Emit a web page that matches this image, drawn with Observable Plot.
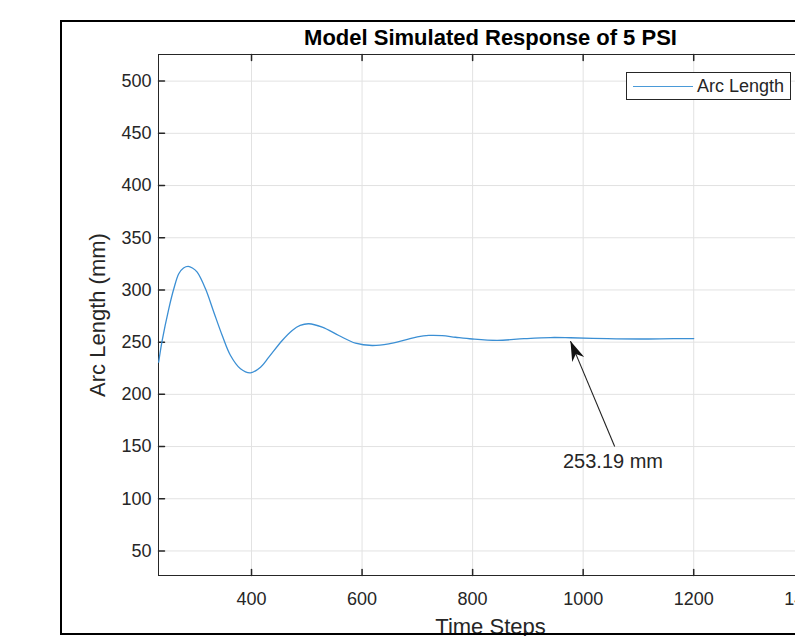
<!DOCTYPE html>
<html>
<head>
<meta charset="utf-8">
<script src="https://cdn.jsdelivr.net/npm/d3@7"></script>
<script src="https://cdn.jsdelivr.net/npm/@observablehq/plot@0.6"></script>
<style>
  html, body { margin: 0; padding: 0; background: #fff; overflow: hidden; }
  #wrap { position: relative; width: 795px; height: 636px; overflow: hidden; font-family: "Liberation Sans", Arial, sans-serif; }
  #chart { position: absolute; left: 0; top: 0; width: 900px; height: 636px; }
  #chart svg { max-width: none !important; width: 900px; height: 636px; }
  #frame { position: absolute; left: 60px; top: 20px; width: 1000px; height: 611px; border: 2px solid #000; pointer-events: none; }
  #legend { position: absolute; left: 626px; top: 72px; width: 163px; height: 26px; border: 1px solid #262626; background: #fff; }
  #legend .ln { position: absolute; left: 6px; top: 13px; width: 60px; height: 0; border-top: 1.3px solid #4a9ad8; }
  #legend .tx { position: absolute; left: 70px; top: 3px; font-size: 18px; color: #262626; line-height: 20px; }
</style>
</head>
<body>
<div id="wrap">
  <div id="chart"></div>
  <div id="legend"><div class="ln"></div><div class="tx">Arc Length</div></div>
  <div id="frame"></div>
</div>
<script>
// ---- data ----
const timeSteps = [232, 238.4, 250.3, 259.4, 268.4, 277, 285.4, 293, 301.7, 316.7, 331.8, 347, 362, 380, 398.2, 416.3, 431.3, 455.5, 473.6, 488, 503.7, 527.9, 557.9, 588.1, 618.3, 648.4, 678.6, 700, 720.8, 745, 769, 799.5, 844.7, 893, 941, 977, 1044, 1104, 1164, 1200];
const arcLength = [230.8, 251.6, 281.9, 301.1, 315.5, 321, 322.5, 321, 317, 301.1, 278.7, 256.4, 237.2, 224.5, 220.6, 226, 235.6, 251.6, 261.2, 266, 267.6, 264.3, 256.4, 249, 246.8, 248.4, 252.2, 255, 256.4, 256.2, 254.7, 253, 251.7, 253.3, 254.4, 254.2, 253.3, 253, 253.4, 253.4];

const xTicks = [400, 600, 800, 1000, 1200, 1400];
const yTicks = [50, 100, 150, 200, 250, 300, 350, 400, 450, 500];
const xDomain = [231.7, 1433];
const yDomain = [26.5, 525.5];

const titleText = "Model Simulated Response of 5 PSI";
const xLabel = "Time Steps";
const yLabel = "Arc Length (mm)";
const annotationText = "253.19 mm";
const arrowTail = [1057, 150];
const arrowTip = [977, 251];
const labelPos = [1054, 135.5];

// ---- layout ----
const W = 900, H = 636;
const mL = 158, mR = 78, mT = 54, mB = 61;

const data = timeSteps.map((t, i) => ({t, v: arcLength[i]}));

const kx = (W - mL - mR) / (xDomain[1] - xDomain[0]);
const ky = (H - mT - mB) / (yDomain[1] - yDomain[0]);
const dxp = (arrowTail[0] - arrowTip[0]) * kx;
const dyp = (arrowTip[1] - arrowTail[1]) * ky;
const headAngle = -Math.atan2(dxp, dyp) * 180 / Math.PI;

const tickShape = { draw(ctx, l) { ctx.moveTo(0, 0); ctx.lineTo(0, -l); } };
const headSymbol = { draw(ctx) {
  ctx.moveTo(0, 0); ctx.lineTo(-6.5, 20); ctx.lineTo(0, 14); ctx.lineTo(6.5, 20); ctx.closePath();
} };

const axisColor = "#262626";
const gridColor = "#e2e2e2";

const chart = Plot.plot({
  width: W, height: H,
  marginLeft: mL, marginRight: mR, marginTop: mT, marginBottom: mB,
  style: { fontFamily: "'Liberation Sans', Arial, sans-serif", fontSize: "18px", color: axisColor, background: "transparent", overflow: "visible", maxWidth: "none" },
  x: { domain: xDomain },
  y: { domain: yDomain },
  marks: [
    Plot.gridX(xTicks, { stroke: gridColor, strokeOpacity: 1 }),
    Plot.gridY(yTicks, { stroke: gridColor, strokeOpacity: 1 }),
    Plot.axisX(xTicks, { tickSize: 0, tickPadding: 17, label: null, fontSize: 18, tickFormat: d => String(d) }),
    Plot.axisY(yTicks, { tickSize: 0, tickPadding: 7, label: null, fontSize: 18, tickFormat: d => String(d) }),
    Plot.vector(xTicks, { x: d => d, frameAnchor: "bottom", length: 6, rotate: 0, anchor: "start", shape: tickShape, stroke: axisColor }),
    Plot.vector(xTicks, { x: d => d, frameAnchor: "top", length: 6, rotate: 180, anchor: "start", shape: tickShape, stroke: axisColor }),
    Plot.vector(yTicks, { y: d => d, frameAnchor: "left", length: 6, rotate: 90, anchor: "start", shape: tickShape, stroke: axisColor }),
    Plot.frame({ stroke: axisColor, strokeWidth: 1 }),
    Plot.line(data, { x: "t", y: "v", stroke: "#3b8fd4", strokeWidth: 1.3, curve: "catmull-rom" }),
    Plot.link([0], { x1: [arrowTail[0]], y1: [arrowTail[1]], x2: [arrowTip[0]], y2: [arrowTip[1]], stroke: "#222", strokeWidth: 1.1 }),
    Plot.dot([0], { x: [arrowTip[0]], y: [arrowTip[1]], symbol: headSymbol, r: 10, rotate: headAngle, fill: "#111", stroke: "none" }),
    Plot.text([annotationText], { x: [labelPos[0]], y: [labelPos[1]], text: d => d, fontSize: 20, fill: axisColor, textAnchor: "middle", lineAnchor: "middle" }),
    Plot.text([titleText], { frameAnchor: "top", dy: -17, text: d => d, fontSize: 22, fontWeight: "bold", fill: "#000", lineAnchor: "middle", textAnchor: "middle" }),
    Plot.text([xLabel], { frameAnchor: "bottom", dy: 51, text: d => d, fontSize: 22, fill: axisColor, lineAnchor: "middle", textAnchor: "middle" }),
    Plot.text([yLabel], { frameAnchor: "left", dx: -61, rotate: -90, text: d => d, fontSize: 22, fill: axisColor, lineAnchor: "middle", textAnchor: "middle" })
  ]
});
document.getElementById("chart").appendChild(chart);
</script>
</body>
</html>
